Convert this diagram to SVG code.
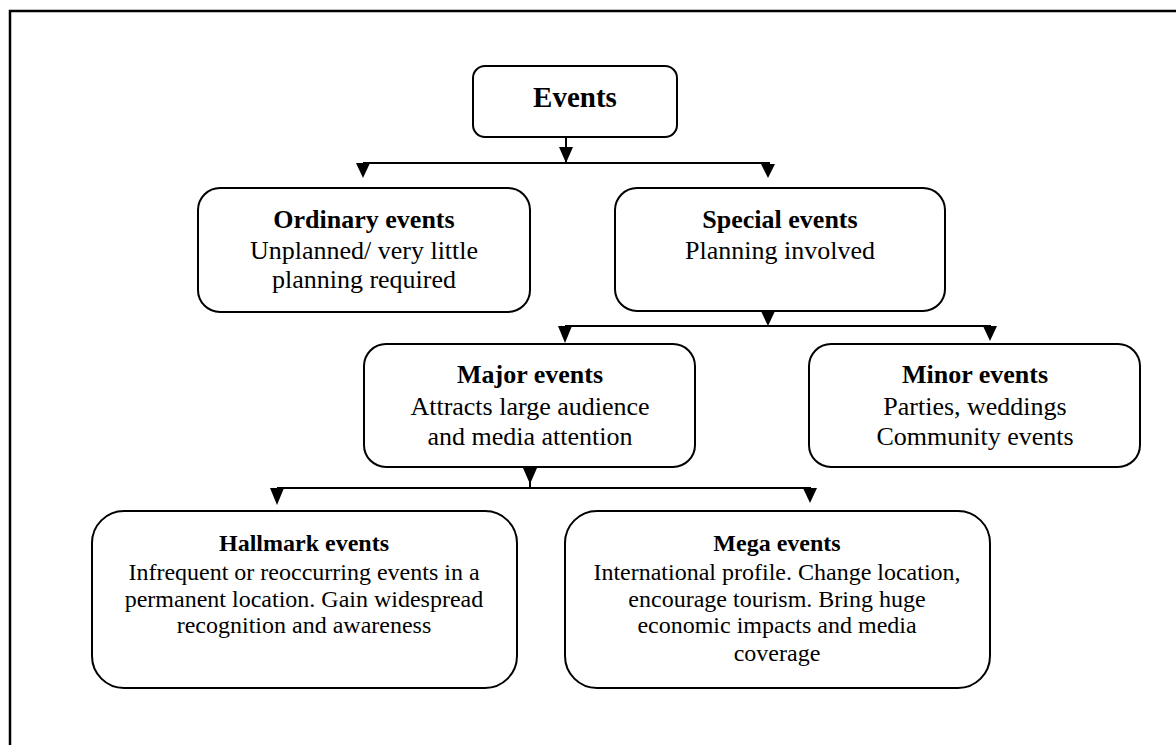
<svg xmlns="http://www.w3.org/2000/svg" width="1176" height="745" viewBox="0 0 1176 745">
<style>
.box{fill:#fff;stroke:#000;stroke-width:2}
.ln{stroke:#000;stroke-width:2;fill:none}
.ah{fill:#000}
text{font-family:"Liberation Serif","Times New Roman",serif;fill:#000;text-anchor:middle}
.t{font-weight:bold;font-size:26px}
.b{font-size:26px}
.ts{font-weight:bold;font-size:24px}
.bs{font-size:24px}
</style>
<rect width="1176" height="745" fill="#fff"/>
<path d="M10 745 V11 H1176" fill="none" stroke="#000" stroke-width="2.5"/>
<g id="connectors">
<line class="ln" x1="566" y1="137" x2="566" y2="163"/>
<polygon class="ah" points="559,147 573,147 566,163"/>
<line class="ln" x1="363" y1="163" x2="770" y2="163"/>
<polygon class="ah" points="356,163 370,163 363,178"/>
<polygon class="ah" points="761,164 775,164 768,178"/>
<polygon class="ah" points="761,311 775,311 768,326"/>
<line class="ln" x1="565" y1="326" x2="991" y2="326"/>
<polygon class="ah" points="558,326 572,326 565,343"/>
<polygon class="ah" points="983,326 997,326 990,341"/>
<line class="ln" x1="530" y1="467" x2="530" y2="488"/>
<polygon class="ah" points="523,468 537,468 530,484"/>
<line class="ln" x1="277" y1="488" x2="811" y2="488"/>
<polygon class="ah" points="270,488 284,488 277,505"/>
<polygon class="ah" points="803,488 817,488 810,503"/>
</g>
<g id="events">
<rect class="box" x="473" y="66" width="204" height="71" rx="12"/>
<text x="575" y="107" style="font-weight:bold;font-size:29px">Events</text>
</g>
<g id="ordinary">
<rect class="box" x="198" y="188" width="332" height="124" rx="22"/>
<text class="t" x="364" y="228">Ordinary events</text>
<text class="b" x="364" y="259">Unplanned/ very little</text>
<text class="b" x="364" y="288">planning required</text>
</g>
<g id="special">
<rect class="box" x="615" y="188" width="330" height="123" rx="22"/>
<text class="t" x="780" y="228">Special events</text>
<text class="b" x="780" y="259">Planning involved</text>
</g>
<g id="major">
<rect class="box" x="364" y="344" width="331" height="123" rx="22"/>
<text class="t" x="530" y="383">Major events</text>
<text class="b" x="530" y="415">Attracts large audience</text>
<text class="b" x="530" y="445">and media attention</text>
</g>
<g id="minor">
<rect class="box" x="809" y="344" width="331" height="123" rx="22"/>
<text class="t" x="975" y="383">Minor events</text>
<text class="b" x="975" y="415">Parties, weddings</text>
<text class="b" x="975" y="445">Community events</text>
</g>
<g id="hallmark">
<rect class="box" x="92" y="511" width="425" height="177" rx="32"/>
<text class="ts" x="304" y="551">Hallmark events</text>
<text class="bs" x="304" y="580">Infrequent or reoccurring events in a</text>
<text class="bs" x="304" y="607">permanent location. Gain widespread</text>
<text class="bs" x="304" y="633">recognition and awareness</text>
</g>
<g id="mega">
<rect class="box" x="565" y="511" width="425" height="177" rx="32"/>
<text class="ts" x="777" y="551">Mega events</text>
<text class="bs" x="777" y="580">International profile. Change location,</text>
<text class="bs" x="777" y="607">encourage tourism. Bring huge</text>
<text class="bs" x="777" y="633">economic impacts and media</text>
<text class="bs" x="777" y="661">coverage</text>
</g>
</svg>
